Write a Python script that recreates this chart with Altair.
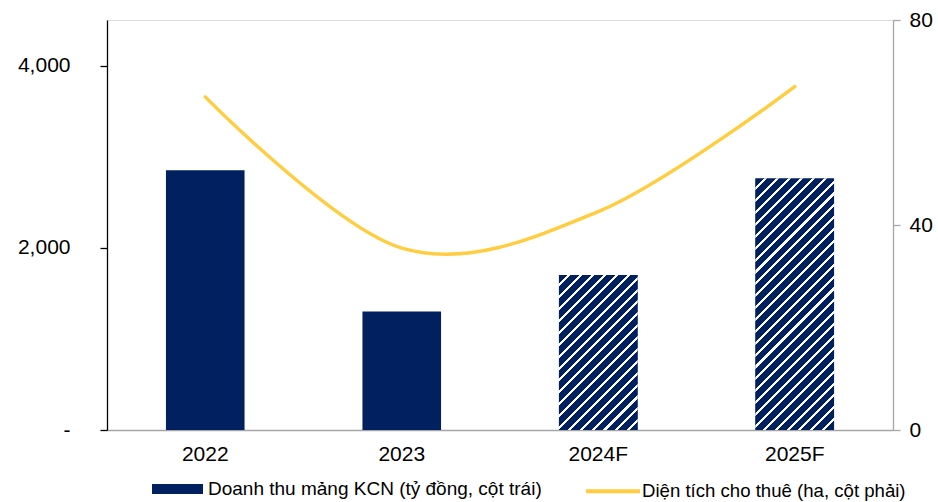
import math
import altair as alt
import pandas as pd

# ---- data ----
years = ["2022", "2023", "2024F", "2025F"]
revenue = [2850, 1300, 1700, 2760]          # left axis (tỷ đồng)
leased_area = [65, 35.5, 42.6, 67]          # right axis (ha)
forecast_years = ["2024F", "2025F"]
rev_label = "Doanh thu mảng KCN (tỷ đồng, cột trái)"
area_label = "Diện tích cho thuê (ha, cột phải)"
left_ticks = [0, 2000, 4000]
right_ticks = [0, 40, 80]

# ---- styling ----
W, H = 786, 410
LEFT_MAX, RIGHT_MAX = 4500, 80
NAVY = "#002060"
YELLOW = "#FFCD3F"
GRAY = "#a6a6a6"
FONT = "Liberation Sans"
AX_FS = 21
LEG_FS = 19
P_IN, P_OUT = 0.6, 0.3

df = pd.DataFrame({
    "year": years,
    "revenue": revenue,
    "area": leased_area,
    "rev_series": rev_label,
    "area_series": area_label,
})

step = W / (len(years) - P_IN + 2 * P_OUT)
BW = (1 - P_IN) * step


def hatch(value, period=8.4, dark=0.74):
    """45° diagonal stripe fill built as a linear gradient."""
    h = value / LEFT_MAX * H
    w = BW
    k = (w + h) / (w * w + h * h)
    L = (w + h) / math.sqrt(2)
    n = L / period
    stops = []
    i = 0
    while i / n < 1:
        a = i / n
        b = min((i + dark) / n, 1)
        c = min((i + 1) / n, 1)
        stops += [
            {"offset": a, "color": NAVY},
            {"offset": b, "color": NAVY},
            {"offset": b, "color": "#ffffff"},
            {"offset": c, "color": "#ffffff"},
        ]
        i += 1
    return {"gradient": "linear", "x1": 0, "y1": 0, "x2": k * w, "y2": k * h,
            "stops": stops}


x_enc = alt.X(
    "year:N", sort=years,
    scale=alt.Scale(paddingInner=P_IN, paddingOuter=P_OUT),
    axis=alt.Axis(title=None, labelAngle=0, ticks=False, domainColor=GRAY,
                  domainWidth=1.3, labelFontSize=AX_FS, labelColor="black",
                  labelPadding=13, labelFont=FONT),
)

y_left = alt.Y(
    "revenue:Q",
    scale=alt.Scale(domain=[0, LEFT_MAX], nice=False),
    axis=alt.Axis(title=None, values=left_ticks, grid=False,
                  domainColor="black", domainWidth=1.3, tickColor="black",
                  tickWidth=1.3, tickSize=7, labelPadding=30, labelFontSize=AX_FS,
                  labelColor="black", labelFont=FONT,
                  labelExpr="datum.value == 0 ? '-\u00a0\u00a0' : format(datum.value, ',')"),
)

solid = alt.Chart(df).mark_bar().encode(
    x=x_enc,
    y=y_left,
    fill=alt.Fill(
        "rev_series:N",
        scale=alt.Scale(range=[NAVY]),
        legend=alt.Legend(title=None, orient="none", legendX=45, legendY=443.5,
                          symbolType="M-1,-0.196H1V0.196H-1Z", symbolSize=2601,
                          symbolFillColor=NAVY, symbolStrokeWidth=0,
                          labelFontSize=LEG_FS, labelColor="black", labelFont=FONT,
                          labelOffset=5, labelLimit=0, padding=0),
    ),
)

hatched = [
    alt.Chart(df).transform_filter(alt.datum.year == yr)
    .mark_bar(fill=hatch(revenue[years.index(yr)]))
    .encode(x=x_enc, y=y_left)
    for yr in forecast_years
]

bars = alt.layer(solid, *hatched)

line = alt.Chart(df).mark_line(
    interpolate="cardinal", tension=0, strokeWidth=3.5, strokeCap="round"
).encode(
    x=x_enc,
    y=alt.Y(
        "area:Q",
        scale=alt.Scale(domain=[0, RIGHT_MAX], nice=False),
        axis=alt.Axis(title=None, orient="right", values=right_ticks,
                      grid=False, domainColor=GRAY, domainWidth=1.3,
                      tickColor=GRAY, tickWidth=1.3, tickSize=7,
                      labelPadding=9, labelFontSize=AX_FS, labelColor="black",
                      labelFont=FONT),
    ),
    stroke=alt.Stroke(
        "area_series:N",
        scale=alt.Scale(range=[YELLOW]),
        legend=alt.Legend(title=None, orient="none", legendX=477, legendY=442.3,
                          symbolType="stroke", symbolSize=2916,
                          symbolStrokeColor=YELLOW, symbolStrokeWidth=4,
                          labelFontSize=18.6, labelColor="black", labelFont=FONT,
                          labelOffset=0, labelLimit=0, padding=0),
    ),
)

chart = alt.layer(bars, line).resolve_scale(y="independent").properties(
    width=W, height=H,
    padding={"left": 107, "top": 20, "right": 45, "bottom": 72},
    autosize="none",
    background="white",
).configure_view(stroke=None).configure(font=FONT)

chart.save("out.html", embed_options={"renderer": "svg", "actions": False})
